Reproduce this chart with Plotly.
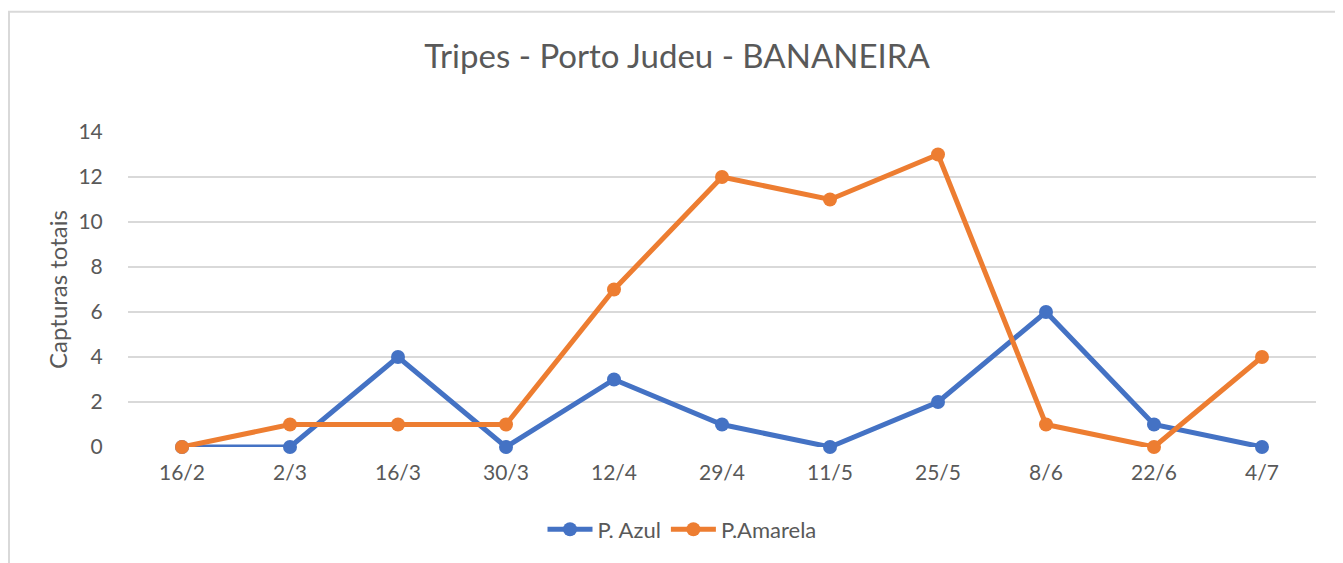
import plotly.graph_objects as go

categories = ["16/2", "2/3", "16/3", "30/3", "12/4", "29/4", "11/5", "25/5", "8/6", "22/6", "4/7"]
azul = [0, 0, 4, 0, 3, 1, 0, 2, 6, 1, 0]
amarela = [0, 1, 1, 1, 7, 12, 11, 13, 1, 0, 4]
y_ticks = [0, 2, 4, 6, 8, 10, 12, 14]

OFF = 8  # page body margin offset
W, H = 1343 - OFF, 563 - OFF
L, R, T, B = 128 - OFF, 1316 - OFF, 132 - OFF, 449 - OFF
FONT = "Lato"
GREY = "#595959"

def px_x(px):
    return (px - OFF - L) / (R - L)

def px_y(py):
    return (B - (py - OFF)) / (B - T)

fig = go.Figure()
fig.add_trace(go.Scatter(x=categories, y=azul, name="P. Azul", mode="lines+markers",
                         line=dict(color="#4472C4", width=5), cliponaxis=False,
                         marker=dict(color="#4472C4", size=14)))
fig.add_trace(go.Scatter(x=categories, y=amarela, name="P.Amarela", mode="lines+markers",
                         line=dict(color="#ED7D31", width=5), cliponaxis=False,
                         marker=dict(color="#ED7D31", size=14)))

fig.update_layout(
    width=W, height=H,
    margin=dict(l=L, r=W - R, t=T, b=H - B),
    paper_bgcolor="white", plot_bgcolor="white",
    font=dict(family=FONT, color=GREY),
    title=dict(text="Tripes - Porto Judeu - BANANEIRA", x=(677 - OFF) / W, xanchor="center",
               y=1 - (56 - OFF) / H, yanchor="middle", font=dict(size=33, color=GREY, family=FONT)),
    showlegend=True,
    legend=dict(orientation="h", x=px_x(682), xanchor="center", y=px_y(532), yanchor="middle",
                font=dict(size=22, color=GREY, family=FONT), itemwidth=45),
    shapes=[dict(type="rect", xref="paper", yref="paper",
                 x0=px_x(9), x1=px_x(1400), y0=px_y(600), y1=px_y(11),
                 line=dict(color="#D9D9D9", width=2), fillcolor="rgba(0,0,0,0)", layer="below")],
)
fig.update_xaxes(type="category", range=[-0.5, 10.5], showgrid=False, showline=False,
                 zeroline=False, tickfont=dict(size=21, color=GREY, family=FONT),
                 ticks="outside", ticklen=7, tickcolor="rgba(0,0,0,0)")
fig.update_yaxes(range=[0, 14], tickvals=y_ticks, showgrid=True, gridcolor="#D9D9D9", gridwidth=1.5,
                 zeroline=False, showline=False, tickfont=dict(size=21, color=GREY, family=FONT),
                 ticks="outside", ticklen=20, tickcolor="rgba(0,0,0,0)",
                 title=dict(text="Capturas totais", font=dict(size=24, color=GREY, family=FONT), standoff=4))

fig.write_html("out.html")
